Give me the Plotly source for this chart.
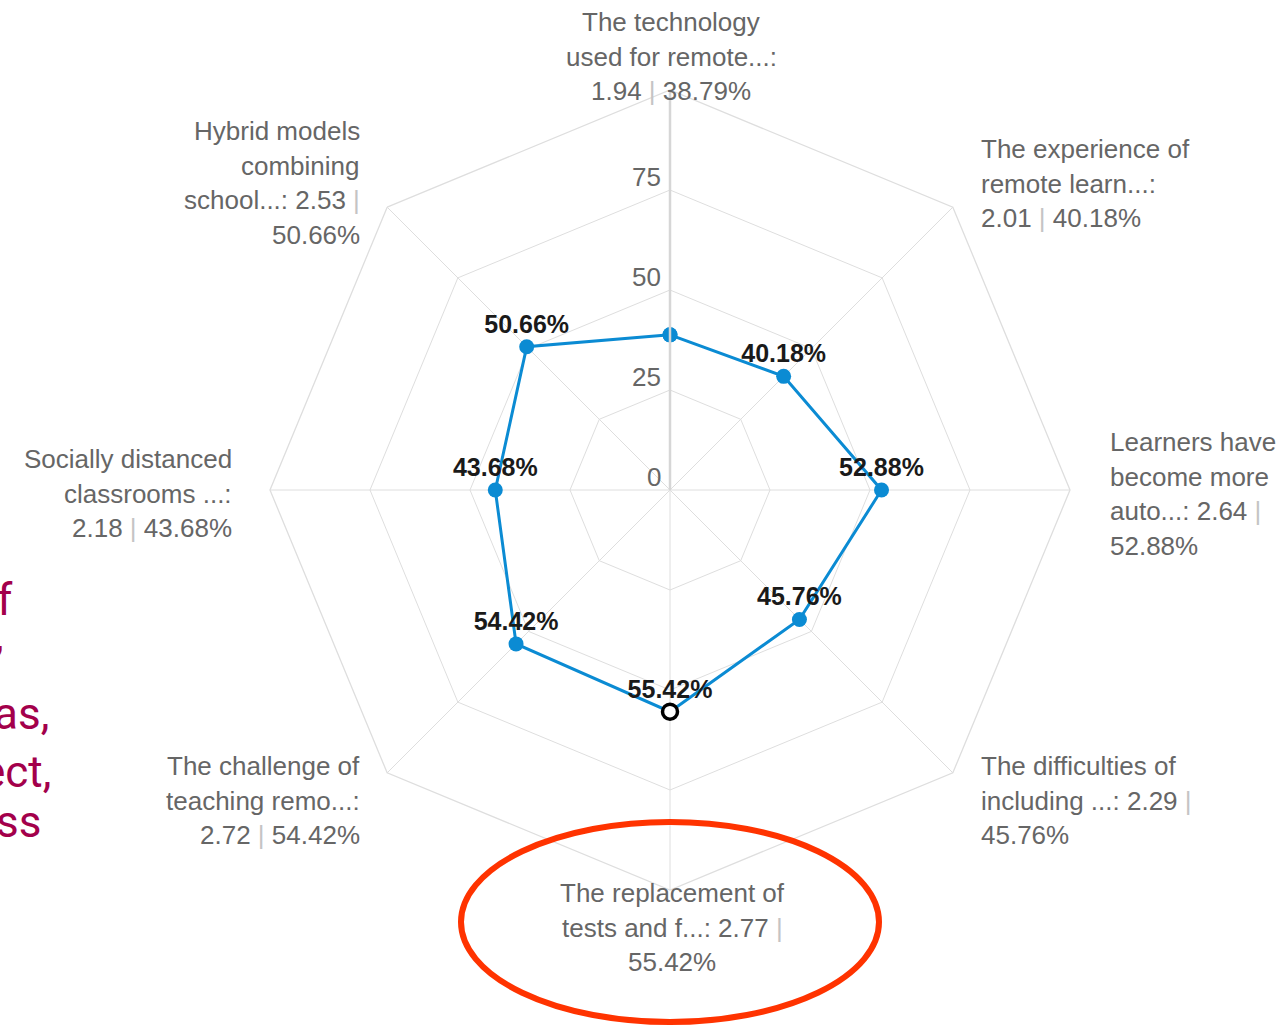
import plotly.graph_objects as go

# ---------------- data ----------------
categories = [
    "The technology used for remote...",
    "The experience of remote learn...",
    "Learners have become more auto...",
    "The difficulties of including ...",
    "The replacement of tests and f...",
    "The challenge of teaching remo...",
    "Socially distanced classrooms ...",
    "Hybrid models combining school...",
]
scores = [1.94, 2.01, 2.64, 2.29, 2.77, 2.72, 2.18, 2.53]
percents = [38.79, 40.18, 52.88, 45.76, 55.42, 54.42, 43.68, 50.66]
show_value_label = [False, True, True, True, True, True, True, True]
highlight_index = 4
radial_ticks = [0, 25, 50, 75]

# category label lines as displayed (wrapped / truncated like the original)
label_lines = [
    ["The technology", "used for remote...:", "{s} | {p}%"],
    ["The experience of", "remote learn...:", "{s} | {p}%"],
    ["Learners have", "become more", "auto...: {s} |", "{p}%"],
    ["The difficulties of", "including ...: {s} |", "{p}%"],
    ["The replacement of", "tests and f...: {s} |", "{p}%"],
    ["The challenge of", "teaching remo...:", "{s} | {p}%"],
    ["Socially distanced", "classrooms ...:", "{s} | {p}%"],
    ["Hybrid models", "combining", "school...: {s} |", "{p}%"],
]
side_text = ["f", ",", "as,", "ect,", "ss"]

# ---------------- layout constants ----------------
W, H = 1288, 1027
CX, CY, R = 670, 490, 400
BLUE = "#0b8bd3"
GRID = "#dedede"
FONT = "Liberation Sans, Arial, sans-serif"
FS = 26
LH = 34.7

def px(x):
    return x / W

def py(y):
    return 1 - y / H

fig = go.Figure()

theta = categories + [categories[0]]
r = percents + [percents[0]]
fig.add_trace(go.Scatterpolar(
    r=r, theta=theta, mode="lines+markers",
    line=dict(color=BLUE, width=3),
    marker=dict(color=BLUE, size=15),
    hoverinfo="skip", showlegend=False,
))
fig.add_trace(go.Scatterpolar(
    r=[p for p, s in zip(percents, show_value_label) if s],
    theta=[c for c, s in zip(categories, show_value_label) if s],
    mode="markers+text",
    marker=dict(size=11, opacity=0),
    text=[f"{p:.2f}%" for p, s in zip(percents, show_value_label) if s],
    textposition="top center",
    textfont=dict(family=FONT, size=FS - 1, color="#1a1a1a", weight="bold"),
    hoverinfo="skip", showlegend=False,
))
fig.add_trace(go.Scatterpolar(
    r=[percents[highlight_index]], theta=[categories[highlight_index]],
    mode="markers",
    marker=dict(color="white", size=15, line=dict(color="black", width=3.5)),
    hoverinfo="skip", showlegend=False,
))

fig.update_layout(
    width=W, height=H,
    margin=dict(l=0, r=0, t=0, b=0),
    paper_bgcolor="white",
    font=dict(family=FONT, size=FS, color="#666"),
    polar=dict(
        domain=dict(x=[px(CX - R), px(CX + R)], y=[py(CY + R), py(CY - R)]),
        bgcolor="white",
        gridshape="linear",
        angularaxis=dict(
            direction="clockwise", rotation=90,
            showticklabels=False, ticks="",
            gridcolor=GRID, gridwidth=1.3,
            linecolor=GRID, linewidth=1.3, showline=True,
        ),
        radialaxis=dict(
            range=[0, 100], angle=90,
            tickvals=radial_ticks, ticktext=[str(t) for t in radial_ticks],
            showticklabels=False, ticks="",
            gridcolor=GRID, gridwidth=1.3,
            showline=True, linecolor="#d6d6d6", linewidth=2.5,
        ),
    ),
)

annotations = []
# radial tick labels (sit just above their grid ring, left of the axis)
for t in radial_ticks:
    annotations.append(dict(
        x=px(CX - 7), y=py(CY - t * R / 100 - 13), xref="paper", yref="paper",
        text=str(t), showarrow=False, xanchor="right", yanchor="middle",
        font=dict(family=FONT, size=FS, color="#666"),
    ))

# category label blocks: (anchor x, first line y, xanchor)
label_pos = [
    (671, 22, "center"),
    (979, 149, "left"),
    (1108, 442, "left"),
    (979, 766, "left"),
    (672, 893, "center"),
    (362, 766, "right"),
    (234, 459, "right"),
    (362, 131, "right"),
]
for i, lines in enumerate(label_lines):
    x0, y0, anc = label_pos[i]
    for j, ln in enumerate(lines):
        txt = ln.format(s=f"{scores[i]:.2f}", p=f"{percents[i]:.2f}")
        txt = txt.replace("|", "<span style='color:#c4c4c4'>|</span>")
        annotations.append(dict(
            x=px(x0), y=py(y0 + j * LH), xref="paper", yref="paper",
            text=txt, showarrow=False, xanchor=anc, yanchor="middle",
            font=dict(family=FONT, size=FS, color="#666"),
        ))

# fragments of slide text on the left edge
side_pos = [(15, 600), (6, 636), (51, 714), (53, 772), (43, 822)]
for t, (x, y) in zip(side_text, side_pos):
    annotations.append(dict(
        x=px(x), y=py(y), xref="paper", yref="paper", text=t,
        showarrow=False, xanchor="right", yanchor="middle",
        font=dict(family="Roboto, Liberation Sans, sans-serif", size=44,
                  color="#a3004b"),
    ))

fig.update_layout(annotations=annotations)

fig.add_shape(
    type="circle", xref="paper", yref="paper",
    x0=px(461), x1=px(879), y0=py(1022), y1=py(822),
    line=dict(color="#ff3300", width=6),
)

fig.write_html("out.html", config={"displayModeBar": False},
               post_script="document.body.style.margin='0';")
